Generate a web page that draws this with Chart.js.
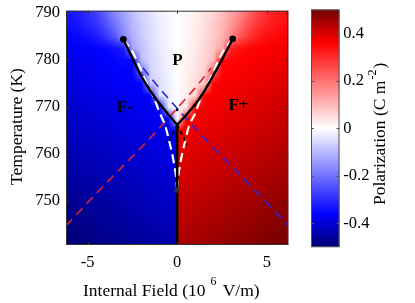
<!DOCTYPE html>
<html><head><meta charset="utf-8">
<script src="https://cdn.jsdelivr.net/npm/chart.js@4.4.0/dist/chart.umd.min.js"></script>
<style>html,body{margin:0;padding:0;background:#fff;}canvas{display:block;}</style>
</head><body>
<canvas id="c" width="415" height="303"></canvas>
<script>
// ---------- grid of polarization values (C m^-2), rows top (790 K) to bottom (740 K)
const fieldT = [790,787.5,785,782.5,780,777.5,775,772.5,770,767.5,765,762.5,760,757.5,755,752.5,750,747.5,745,742.5,740];
const fieldELeft = [-6.5,-6,-5.5,-5,-4.5,-4,-3.5,-3,-2.5,-2,-1.5,-1,-0.5,0];
const fieldERight = [0,0.5,1,1.5,2,2.5,3,3.5,4,4.5,5,5.5,6,6.5];
const polLeft = [
[-0.34,-0.33,-0.32,-0.30,-0.27,-0.22,-0.17,-0.13,-0.09,-0.06,-0.04,-0.02,-0.01,0],
[-0.35,-0.34,-0.33,-0.31,-0.29,-0.25,-0.20,-0.15,-0.10,-0.07,-0.045,-0.025,-0.012,0],
[-0.36,-0.355,-0.35,-0.34,-0.32,-0.29,-0.24,-0.17,-0.11,-0.075,-0.05,-0.027,-0.013,0],
[-0.376,-0.372,-0.367,-0.363,-0.358,-0.354,-0.34,-0.32,-0.13,-0.085,-0.055,-0.03,-0.015,0],
[-0.384,-0.379,-0.375,-0.37,-0.366,-0.361,-0.357,-0.352,-0.348,-0.095,-0.06,-0.035,-0.017,0],
[-0.391,-0.387,-0.382,-0.378,-0.373,-0.369,-0.364,-0.36,-0.355,-0.22,-0.065,-0.04,-0.02,0],
[-0.399,-0.394,-0.39,-0.385,-0.381,-0.376,-0.372,-0.367,-0.363,-0.358,-0.075,-0.045,-0.022,0],
[-0.406,-0.402,-0.397,-0.393,-0.388,-0.384,-0.379,-0.375,-0.37,-0.366,-0.361,-0.05,-0.025,0],
[-0.414,-0.409,-0.405,-0.40,-0.396,-0.391,-0.387,-0.382,-0.378,-0.373,-0.369,-0.364,-0.03,0],
[-0.421,-0.417,-0.412,-0.408,-0.403,-0.399,-0.394,-0.39,-0.385,-0.381,-0.376,-0.372,-0.367,0],
[-0.429,-0.424,-0.42,-0.415,-0.411,-0.406,-0.402,-0.397,-0.393,-0.388,-0.384,-0.379,-0.375,-0.37],
[-0.436,-0.432,-0.427,-0.423,-0.418,-0.414,-0.409,-0.405,-0.40,-0.396,-0.391,-0.387,-0.382,-0.378],
[-0.444,-0.439,-0.435,-0.43,-0.426,-0.421,-0.417,-0.412,-0.408,-0.403,-0.399,-0.394,-0.39,-0.385],
[-0.451,-0.447,-0.442,-0.438,-0.433,-0.429,-0.424,-0.42,-0.415,-0.411,-0.406,-0.402,-0.397,-0.393],
[-0.459,-0.454,-0.45,-0.445,-0.441,-0.436,-0.432,-0.427,-0.423,-0.418,-0.414,-0.409,-0.405,-0.40],
[-0.466,-0.462,-0.457,-0.453,-0.448,-0.444,-0.439,-0.435,-0.43,-0.426,-0.421,-0.417,-0.412,-0.408],
[-0.474,-0.469,-0.465,-0.46,-0.456,-0.451,-0.447,-0.442,-0.438,-0.433,-0.429,-0.424,-0.42,-0.415],
[-0.481,-0.477,-0.472,-0.468,-0.463,-0.459,-0.454,-0.45,-0.445,-0.441,-0.436,-0.432,-0.427,-0.423],
[-0.489,-0.484,-0.48,-0.475,-0.471,-0.466,-0.462,-0.457,-0.453,-0.448,-0.444,-0.439,-0.435,-0.43],
[-0.496,-0.492,-0.487,-0.483,-0.478,-0.474,-0.469,-0.465,-0.46,-0.456,-0.451,-0.447,-0.442,-0.438],
[-0.5,-0.499,-0.495,-0.49,-0.486,-0.481,-0.477,-0.472,-0.468,-0.463,-0.459,-0.454,-0.45,-0.445]
];
const polRight = [
[0,0.01,0.02,0.04,0.06,0.09,0.13,0.17,0.22,0.27,0.30,0.32,0.33,0.34],
[0,0.012,0.025,0.045,0.07,0.10,0.15,0.20,0.25,0.29,0.31,0.33,0.34,0.35],
[0,0.013,0.027,0.05,0.075,0.11,0.17,0.24,0.29,0.32,0.34,0.35,0.355,0.36],
[0,0.015,0.03,0.055,0.085,0.13,0.32,0.34,0.354,0.358,0.363,0.367,0.372,0.376],
[0,0.017,0.035,0.06,0.095,0.348,0.352,0.357,0.361,0.366,0.37,0.375,0.379,0.384],
[0,0.02,0.04,0.065,0.22,0.355,0.36,0.364,0.369,0.373,0.378,0.382,0.387,0.391],
[0,0.022,0.045,0.075,0.358,0.363,0.367,0.372,0.376,0.381,0.385,0.39,0.394,0.399],
[0,0.025,0.05,0.361,0.366,0.37,0.375,0.379,0.384,0.388,0.393,0.397,0.402,0.406],
[0,0.03,0.364,0.369,0.373,0.378,0.382,0.387,0.391,0.396,0.40,0.405,0.409,0.414],
[0,0.367,0.372,0.376,0.381,0.385,0.39,0.394,0.399,0.403,0.408,0.412,0.417,0.421],
[0.37,0.375,0.379,0.384,0.388,0.393,0.397,0.402,0.406,0.411,0.415,0.42,0.424,0.429],
[0.378,0.382,0.387,0.391,0.396,0.40,0.405,0.409,0.414,0.418,0.423,0.427,0.432,0.436],
[0.385,0.39,0.394,0.399,0.403,0.408,0.412,0.417,0.421,0.426,0.43,0.435,0.439,0.444],
[0.393,0.397,0.402,0.406,0.411,0.415,0.42,0.424,0.429,0.433,0.438,0.442,0.447,0.451],
[0.40,0.405,0.409,0.414,0.418,0.423,0.427,0.432,0.436,0.441,0.445,0.45,0.454,0.459],
[0.408,0.412,0.417,0.421,0.426,0.43,0.435,0.439,0.444,0.448,0.453,0.457,0.462,0.466],
[0.415,0.42,0.424,0.429,0.433,0.438,0.442,0.447,0.451,0.456,0.46,0.465,0.469,0.474],
[0.423,0.427,0.432,0.436,0.441,0.445,0.45,0.454,0.459,0.463,0.468,0.472,0.477,0.481],
[0.43,0.435,0.439,0.444,0.448,0.453,0.457,0.462,0.466,0.471,0.475,0.48,0.484,0.489],
[0.438,0.442,0.447,0.451,0.456,0.46,0.465,0.469,0.474,0.478,0.483,0.487,0.492,0.496],
[0.445,0.45,0.454,0.459,0.463,0.468,0.472,0.477,0.481,0.486,0.49,0.495,0.499,0.5]
];

// ---------- phase boundary lines (field in 10^6 V/m, temperature in K)
const blackLeftE = [-3.0,-2.4,-1.87,-1.2,-0.56,0];
const blackLeftT = [784.4,779.6,775.7,771.8,768.7,766.2];
const blackRightE = [0,0.6,1.25,1.87,2.45,3.1];
const blackRightT = [766.2,768.7,771.8,775.7,779.7,784.5];
const blackStemE = [0,0];
const blackStemT = [766.2,740.6];
const blackDashLeftE = [0,-0.55];
const blackDashLeftT = [766.2,762.0];
const blackDashRightE = [0,0.55];
const blackDashRightT = [766.2,762.0];
const whiteLeftE = [-3.0,-2.5,-2.1,-1.75,-1.3,-1.0,-0.65,-0.4,-0.2,-0.06,0];
const whiteLeftT = [784.4,781.8,778.6,775.5,772,769,765.8,762,758.5,755,752.3];
const whiteRightE = [3.1,2.55,2.15,1.78,1.32,1.05,0.65,0.4,0.2,0.06,0];
const whiteRightT = [784.5,781.8,778.6,775.5,772,769,765.8,762,758.5,755,752.3];
const redE = [-6.2,-4.5,-3.0,-1.5,-0.4,0.3,1.1,1.9];
const redT = [744.7,751.6,757.5,763.4,768.0,771.0,774.5,778.3];
const blueE = [-1.9,-1.1,-0.3,0.4,1.5,3.0,4.5,6.2];
const blueT = [778.3,774.5,771.0,768.0,763.4,757.5,751.6,744.7];
const criticalE = [-3.0,3.1];
const criticalT = [784.4,784.5];
const apexDotE = [0];
const apexDotT = [769.4];
const lowDotE = [0];
const lowDotT = [752.3];

// ---------- labels and ticks
const phaseLabels = ['P','F-','F+'];
const phaseE = [0.02,-2.92,3.42];
const phaseT = [779.8,769.9,770.2];
const xTickStep = 5, yTickStep = 10, cbTickStep = 0.2;

// ---------- colormap
const cmapStops = [-0.5,-0.36,0,0.36,0.5];
const cmapR = [0,0,255,255,115];
const cmapG = [0,0,255,0,0];
const cmapB = [115,255,255,0,0];

const SERIF = "'Liberation Serif','Times New Roman',serif";

function cmap(v){
  if (v <= cmapStops[0]) return [cmapR[0],cmapG[0],cmapB[0]];
  for (let i=1;i<cmapStops.length;i++){
    if (v <= cmapStops[i]){
      const f = (v-cmapStops[i-1])/(cmapStops[i]-cmapStops[i-1]);
      return [cmapR[i-1]+f*(cmapR[i]-cmapR[i-1]), cmapG[i-1]+f*(cmapG[i]-cmapG[i-1]), cmapB[i-1]+f*(cmapB[i]-cmapB[i-1])];
    }
  }
  const n = cmapStops.length-1;
  return [cmapR[n],cmapG[n],cmapB[n]];
}
function buildImage(vals){
  const h = vals.length, w = vals[0].length;
  const c = document.createElement('canvas'); c.width = w; c.height = h;
  const g = c.getContext('2d'); const img = g.createImageData(w,h);
  for (let r=0;r<h;r++) for (let k=0;k<w;k++){
    const col = cmap(vals[r][k]); const o = (r*w+k)*4;
    img.data[o]=Math.round(col[0]); img.data[o+1]=Math.round(col[1]); img.data[o+2]=Math.round(col[2]); img.data[o+3]=255;
  }
  g.putImageData(img,0,0); return c;
}
const imgLeft = buildImage(polLeft), imgRight = buildImage(polRight);

function drawHalf(chart, img, es, clipL, clipR){
  const {ctx, chartArea:a, scales:{x,y}} = chart;
  const dE = (es[1]-es[0])/2, dT = (fieldT[0]-fieldT[1])/2;
  const L = x.getPixelForValue(es[0]-dE), R = x.getPixelForValue(es[es.length-1]+dE);
  const T = y.getPixelForValue(fieldT[0]+dT), B = y.getPixelForValue(fieldT[fieldT.length-1]-dT);
  ctx.save(); ctx.beginPath(); ctx.rect(clipL, a.top, clipR-clipL, a.bottom-a.top); ctx.clip();
  ctx.imageSmoothingEnabled = true; ctx.imageSmoothingQuality = 'low';
  ctx.drawImage(img, L, T, R-L, B-T); ctx.restore();
}

const heatmapPlugin = {
  id:'heatmap',
  beforeDatasetsDraw(chart){
    const a = chart.chartArea, x0 = chart.scales.x.getPixelForValue(0);
    drawHalf(chart, imgLeft, fieldELeft, a.left, x0);
    drawHalf(chart, imgRight, fieldERight, x0, a.right);
  }
};

const decorPlugin = {
  id:'decor',
  afterDatasetsDraw(chart){
    const {ctx, chartArea:a, scales:{x,y}} = chart;
    ctx.save();
    ctx.fillStyle = '#000'; ctx.font = 'bold 17px ' + SERIF; ctx.textAlign='center'; ctx.textBaseline='middle';
    phaseLabels.forEach((t,i)=>ctx.fillText(t, x.getPixelForValue(phaseE[i]), y.getPixelForValue(phaseT[i])));
    ctx.restore();
  },
  afterDraw(chart){
    const {ctx, chartArea:a, scales:{x,y,cb}} = chart;
    ctx.save();
    // plot frame and inward ticks
    ctx.strokeStyle = '#333'; ctx.lineWidth = 1;
    ctx.strokeRect(a.left+0.5, a.top+0.5, a.right-a.left-1, a.bottom-a.top-1);
    ctx.beginPath();
    x.ticks.forEach(t=>{ const px = Math.round(x.getPixelForValue(t.value))+0.5;
      ctx.moveTo(px,a.bottom); ctx.lineTo(px,a.bottom-3); ctx.moveTo(px,a.top); ctx.lineTo(px,a.top+3); });
    y.ticks.forEach(t=>{ const py = Math.round(y.getPixelForValue(t.value))+0.5;
      ctx.moveTo(a.left,py); ctx.lineTo(a.left+3,py); ctx.moveTo(a.right,py); ctx.lineTo(a.right-3,py); });
    ctx.stroke();
    // colorbar
    const cbL = 311, cbR = 339.5;
    const top = cb.getPixelForValue(0.5), bot = cb.getPixelForValue(-0.5);
    const grad = ctx.createLinearGradient(0, bot, 0, top);
    cmapStops.forEach((s,i)=>grad.addColorStop((s+0.5), `rgb(${cmapR[i]},${cmapG[i]},${cmapB[i]})`));
    ctx.fillStyle = grad; ctx.fillRect(cbL, top, cbR-cbL, bot-top);
    ctx.strokeStyle = '#555'; ctx.strokeRect(cbL+0.5, top+0.5, cbR-cbL-1, bot-top-1);
    ctx.beginPath();
    cb.ticks.forEach(t=>{ const py = Math.round(cb.getPixelForValue(t.value))+0.5;
      ctx.moveTo(cbL,py); ctx.lineTo(cbL+3,py); ctx.moveTo(cbR,py); ctx.lineTo(cbR-3,py); });
    ctx.stroke();
    // axis titles
    ctx.fillStyle = '#000'; ctx.textBaseline = 'alphabetic';
    ctx.font = '17.5px ' + SERIF; ctx.textAlign = 'left';
    ctx.fillText('Internal Field (10', 83, 296);
    ctx.font = '12px ' + SERIF; ctx.fillText('6', 210.5, 284.5);
    ctx.font = '17.5px ' + SERIF; ctx.fillText('V/m)', 222.7, 296);
    ctx.save(); ctx.translate(22, 126.5); ctx.rotate(-Math.PI/2); ctx.textAlign='center';
    ctx.fillText('Temperature (K)', 0, 0); ctx.restore();
    ctx.save(); ctx.translate(385, 205); ctx.rotate(-Math.PI/2); ctx.textAlign='left';
    ctx.font = '17.5px ' + SERIF; const s1 = 'Polarization (C m'; ctx.fillText(s1, 0, 0);
    const w1 = ctx.measureText(s1).width;
    ctx.font = '12px ' + SERIF; ctx.fillText('-2', w1+1, -9); const w2 = ctx.measureText('-2').width;
    ctx.font = '17.5px ' + SERIF; ctx.fillText(')', w1+w2+2, 0);
    ctx.restore();
    ctx.restore();
  }
};

function pts(es, ts){ return es.map((e,i)=>({x:e, y:ts[i]})); }
function lineDs(label, es, ts, color, width, dash, order){
  return {label, data:pts(es,ts), showLine:true, borderColor:color, borderWidth:width, borderDash:dash,
    pointRadius:0, fill:false, cubicInterpolationMode:'monotone', order, borderCapStyle:'butt', borderJoinStyle:'round'};
}
function dotDs(label, es, ts, color, r, order){
  return {label, data:pts(es,ts), showLine:false, pointRadius:r, pointBackgroundColor:color, pointBorderColor:color, pointBorderWidth:0, order};
}

const datasets = [
  dotDs('critical points', criticalE, criticalT, '#000', 3.3, 0),
  dotDs('apex point', apexDotE, apexDotT, '#000', 1.5, 0),
  dotDs('lower point', lowDotE, lowDotT, '#3a3030', 2.8, 0),
  lineDs('boundary stem', blackStemE, blackStemT, '#000', 2.6, [], 1),
  lineDs('boundary left', blackLeftE, blackLeftT, '#000', 2.4, [], 1),
  lineDs('boundary right', blackRightE, blackRightT, '#000', 2.4, [], 1),
  lineDs('black dashed left', blackDashLeftE, blackDashLeftT, '#000', 1.8, [4,3], 2),
  lineDs('black dashed right', blackDashRightE, blackDashRightT, '#000', 1.8, [4,3], 2),
  lineDs('white dashed left', whiteLeftE, whiteLeftT, '#fff', 2.2, [9,5], 3),
  lineDs('white dashed right', whiteRightE, whiteRightT, '#fff', 2.2, [9,5], 3),
  lineDs('red dashed', redE, redT, '#e0202c', 1.6, [9,6], 4),
  lineDs('blue dashed', blueE, blueT, '#2828d8', 1.6, [9,6], 4)
];

const tickFont = {family:SERIF, size:16.5};
new Chart(document.getElementById('c'), {
  type:'scatter',
  data:{datasets},
  options:{
    responsive:false, animation:false, devicePixelRatio:1,
    layout:{padding:{top:10.7,left:0,right:0,bottom:0}},
    plugins:{legend:{display:false}, tooltip:{enabled:false}},
    scales:{
      x:{type:'linear', position:'bottom', min:-6.2, max:6.2,
         ticks:{stepSize:xTickStep, includeBounds:false, padding:0, color:'#000', font:tickFont, maxRotation:0},
         grid:{display:false, drawTicks:true, tickLength:7.6}, border:{display:false},
         afterFit(s){ s.height = 58; }},
      y:{type:'linear', position:'left', min:740.6, max:790.5,
         ticks:{stepSize:yTickStep, includeBounds:false, padding:0, color:'#000', font:tickFont},
         grid:{display:false, drawTicks:true, tickLength:6}, border:{display:false},
         afterFit(s){ s.width = 66; }},
      cb:{type:'linear', position:'right', min:-0.491, max:0.495,
         ticks:{stepSize:cbTickStep, includeBounds:false, padding:0, color:'#000', font:tickFont,
                callback:v=>Math.abs(v)<1e-9 ? '0' : (+v).toFixed(1)},
         grid:{display:false, drawTicks:true, tickLength:55}, border:{display:false},
         afterFit(s){ s.width = 126.7; }}
    }
  },
  plugins:[heatmapPlugin, decorPlugin]
});
</script>
</body></html>
